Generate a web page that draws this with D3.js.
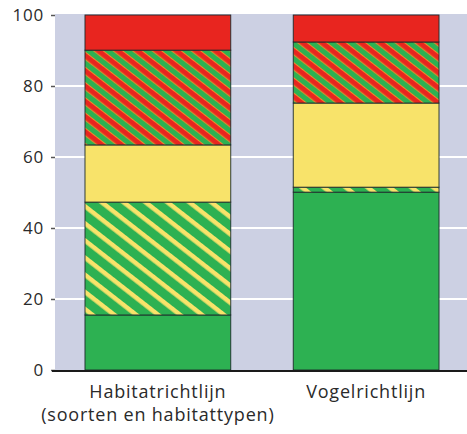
<!DOCTYPE html>
<html><head><meta charset="utf-8">
<script src="https://cdn.jsdelivr.net/npm/d3@7"></script>
<style>
html,body{margin:0;padding:0;background:#fff;}
text{font-family:"Open Sans",sans-serif;fill:#2a2a2a;}
</style></head>
<body>
<svg id="chart" width="467" height="434"></svg>
<script>
// ---- data ----
const categories = ["Habitatrichtlijn", "Vogelrichtlijn"];
const categoryLines = [["Habitatrichtlijn", "(soorten en habitattypen)"], ["Vogelrichtlijn"]];
const seriesKeys = ["groen", "groenGeel", "geel", "groenRood", "rood"];
const groen     = [15.5, 50.1];
const groenGeel = [31.8, 1.4];
const geel      = [16.1, 23.7];
const groenRood = [26.7, 17.2];
const rood      = [9.9, 7.6];
const yTicks = [0, 20, 40, 60, 80, 100];

const table = categories.map((c, i) => ({
  cat: c, groen: groen[i], groenGeel: groenGeel[i], geel: geel[i], groenRood: groenRood[i], rood: rood[i]
}));

const svg = d3.select("#chart");
const defs = svg.append("defs");

const GREEN = "#2db152", YELLOW = "#f8e36a", RED = "#e8251f";

function stripes(id, base, stripe, period, w, edge) {
  const p = defs.append("pattern").attr("id", id)
    .attr("patternUnits", "userSpaceOnUse").attr("width", period).attr("height", period)
    .attr("patternTransform", "rotate(38)");
  p.append("rect").attr("width", period).attr("height", period).attr("fill", base);
  if (edge) p.append("rect").attr("y", 0).attr("width", period).attr("height", w + 2).attr("fill", edge);
  p.append("rect").attr("y", edge ? 1 : 0).attr("width", period).attr("height", w).attr("fill", stripe);
}
stripes("gy", GREEN, YELLOW, 13.5, 4.5, null);
stripes("gr", GREEN, RED, 12, 4.8, "#f08a2a");

const fills = { groen: GREEN, groenGeel: "url(#gy)", geel: YELLOW, groenRood: "url(#gr)", rood: RED };

const x = d3.scaleBand().domain(categories).range([55, 469]).paddingInner(0.3).paddingOuter(0.144);
const y = d3.scaleLinear().domain([0, 100]).range([370, 15]);

// plot background
svg.append("rect").attr("x", 55).attr("y", y(100) - 1).attr("width", 467 - 55).attr("height", y(0) - y(100) + 1)
  .attr("fill", "#ccd0e3");

// gridlines
svg.append("g").selectAll("line").data(yTicks.filter(d => d > 0 && d < 100)).join("line")
  .attr("x1", 55).attr("x2", 467).attr("y1", d => y(d)).attr("y2", d => y(d))
  .attr("stroke", "#fff").attr("stroke-width", 2);

// bars
const stacked = d3.stack().keys(seriesKeys)(table);
const g = svg.append("g");
stacked.forEach(layer => {
  g.append("g").selectAll("rect").data(layer).join("rect")
    .attr("x", d => x(d.data.cat))
    .attr("width", x.bandwidth())
    .attr("y", d => y(d[1]))
    .attr("height", d => y(d[0]) - y(d[1]))
    .attr("fill", fills[layer.key])
    .attr("stroke", "#1d2b2b").attr("stroke-width", 0.9);
});

// y axis
const yAxis = d3.axisLeft(y).tickValues(yTicks).tickSize(4).tickPadding(7);
const ya = svg.append("g").attr("transform", "translate(55,0)").call(yAxis);
ya.select(".domain").remove();
ya.selectAll(".tick line").attr("stroke", "#555").attr("stroke-width", 1.5);
ya.selectAll(".tick text").attr("font-size", 17).attr("font-family", "Open Sans").attr("fill", "#2a2a2a")
  .attr("letter-spacing", 0.8);

// baseline
svg.append("line").attr("x1", 52).attr("x2", 467).attr("y1", y(0) + 1).attr("y2", y(0) + 1)
  .attr("stroke", "#1a1a1a").attr("stroke-width", 2.2);

// x labels
const xl = svg.append("g");
categories.forEach((c, i) => {
  const t = xl.append("text").attr("text-anchor", "middle").attr("font-size", 18).attr("letter-spacing", 0.8);
  categoryLines[i].forEach((ln, j) => {
    t.append("tspan").attr("x", x(c) + x.bandwidth() / 2).attr("y", 398 + j * 23).text(ln);
  });
});
</script>
</body></html>
